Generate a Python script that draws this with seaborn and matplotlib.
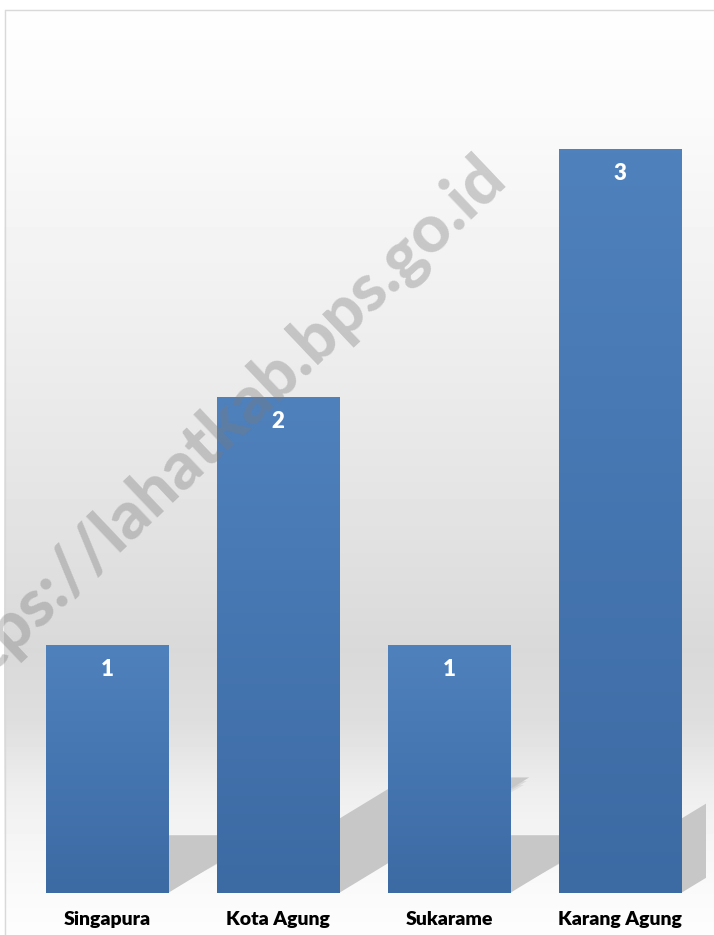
import numpy as np
import matplotlib
matplotlib.use("Agg")
import matplotlib.pyplot as plt
import seaborn as sns
from matplotlib.patches import Polygon
from matplotlib.lines import Line2D
from matplotlib.colors import LinearSegmentedColormap

# data
categories = ["Singapura", "Kota Agung", "Sukarame", "Karang Agung"]
values = [1, 2, 1, 3]
watermark = "https://lahatkab.bps.go.id"

sns.set_theme(style="white")
plt.rcParams["font.family"] = ["Lato", "DejaVu Sans"]

W, H = 714, 935
fig = plt.figure(figsize=(W / 100, H / 100), dpi=100)
fig.patch.set_facecolor("white")

# chart-area background: vertical grey gradient
bg = fig.add_axes([0, 0, 1, 1], zorder=-2)
stops_y = [0, 9, 100, 300, 500, 650, 720, 790, 840, 893, 935]
stops_v = [255, 254, 251, 240, 228, 217, 222, 238, 245, 250, 253]
col = np.interp(np.arange(H), stops_y, stops_v) / 255.0
col[:9] = 1.0
img = np.repeat(col[:, None], W, axis=1)
img[:, :4] = 1.0
bg.imshow(img, cmap="gray", vmin=0, vmax=1, aspect="auto", extent=[0, 1, 0, 1])
bg.axis("off")

# chart border (top / left visible)
bx, by = 4.5 / W, 1 - 9.5 / H
fig.add_artist(Line2D([bx, bx], [0, by], color="#d9d9d9", lw=1))
fig.add_artist(Line2D([bx, 1], [by, by], color="#d9d9d9", lw=1))

ax = fig.add_axes([21.5 / W, 42 / H, 684 / W, 868 / H])
ax.patch.set_alpha(0)
sns.barplot(x=categories, y=values, color="#4a7ab5", saturation=1, width=0.714, ax=ax)

bar_cmap = LinearSegmentedColormap.from_list("bar", ["#3c6aa3", "#4f81bd"])
grad = np.linspace(0, 1, 200)[:, None]
for p, v in zip(ax.patches, values):
    x0 = p.get_x()
    x1 = x0 + p.get_width()
    h = p.get_height()
    # diagonal floor shadow, soft edge from a few stacked layers
    dx, hs = 0.556 * h, 0.233 * h
    for k, a in zip([0.03, 0.015, 0.0], [0.35, 0.5, 1.0]):
        pts = [(x0, 0), (x1 - k, 0), (x1 + dx - k, hs - k),
               (x0 + dx, hs - k)]
        ax.add_patch(Polygon(pts, closed=True, facecolor="#c7c7c7",
                             alpha=a, lw=0, zorder=1))
    # gradient fill on the bar
    ax.imshow(grad, cmap=bar_cmap, extent=[x0, x1, 0, h], origin="lower",
              aspect="auto", zorder=3)
    p.set_visible(False)
    ax.annotate(str(v), (x0 + p.get_width() / 2, h), xytext=(0, -18),
                textcoords="offset points", ha="center", va="center",
                color="white", fontsize=16, fontweight="heavy", zorder=5)

ax.set_xlim(-0.5, 3.5)
ax.set_ylim(0, 3.5)
ax.set_yticks([])
ax.set_xlabel("")
ax.set_ylabel("")
ax.tick_params(axis="x", length=0, pad=13, labelsize=14, colors="black")
for t in ax.get_xticklabels():
    t.set_fontweight("heavy")
for s in ax.spines.values():
    s.set_visible(False)

# watermark
fig.text(215 / W, 1 - 434 / H, watermark, rotation=43.5, rotation_mode="anchor",
         ha="center", va="center", fontsize=48, fontweight="black",
         color="#7a7a7a", alpha=0.36, zorder=10)

fig.savefig("out.png", dpi=100)
